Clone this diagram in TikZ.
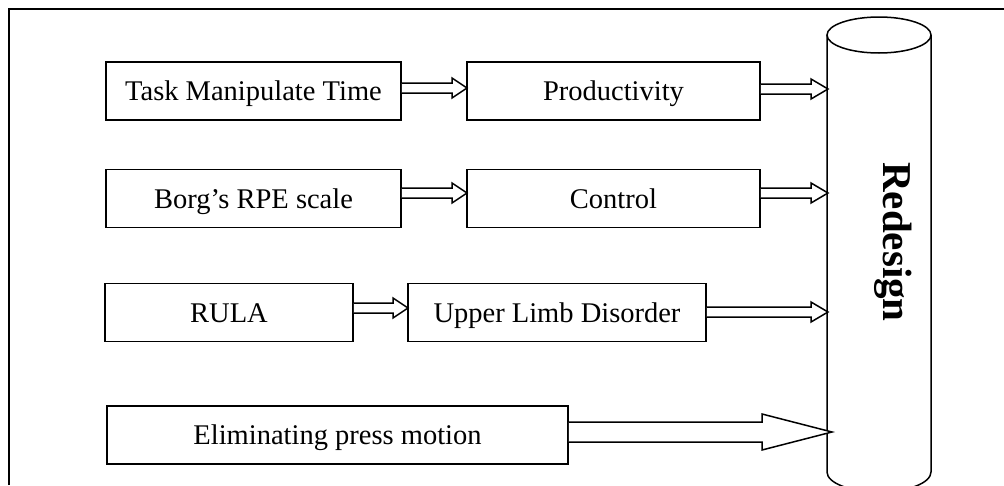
\documentclass[tikz,border=0pt]{standalone}
\usepackage{fontspec}
\setmainfont{Liberation Serif}
\usetikzlibrary{calc}
\tikzset{
  box/.style={draw, line width=1.8pt, rectangle, inner sep=0pt, minimum height=58pt,
    text height=19pt, text depth=0pt, font=\fontsize{28.5}{32}\selectfont},
  outline/.style={line width=1.5pt},
}
% hollow block arrow from #1 to tip #2: shaft half-width #3, head half-width #4, head length #5
\newcommand{\blockarrow}[5]{%
  \draw[outline, fill=white, line join=miter] let \p1=(#1), \p2=(#2) in
    (\x1,\y2+#3) -- (\x2-#5,\y2+#3) -- (\x2-#5,\y2+#4) -- (\x2,\y2)
    -- (\x2-#5,\y2-#4) -- (\x2-#5,\y2-#3) -- (\x1,\y2-#3);
}
\begin{document}
\begin{tikzpicture}[x=1pt,y=-1pt]
\useasboundingbox (0,0) rectangle (1004,485);
% outer frame
\draw[line width=1.8pt] (9,485) -- (9,9) -- (1004,9);

% cylinder
\coordinate (cyl) at (879,35);
\draw[outline] (cyl) ellipse [x radius=52, y radius=18];
\draw[outline] (827,35) -- (827,472) arc[start angle=180, end angle=0, x radius=52, y radius=20] -- (931,35);
\node[rotate=-90, font=\fontsize{41}{46}\selectfont\bfseries] (redesign) at (893,242) {Redesign};

% boxes
\node[box, minimum width=295pt] (tmt)  at (253.5,91)  {Task Manipulate Time};
\node[box, minimum width=293pt] (prod) at (613.5,91)  {Productivity};
\node[box, minimum width=295pt] (borg) at (253.5,198.5) {Borg’s RPE scale};
\node[box, minimum width=293pt] (ctrl) at (613.5,198.5) {Control};
\node[box, minimum width=248pt] (rula) at (229,312.5) {RULA};
\node[box, minimum width=298pt] (uld)  at (557,312.5) {Upper Limb Disorder};
\node[box, minimum width=461pt] (elim) at (337.5,435) {Eliminating press motion};

% arrow tips
\coordinate (t1) at (467,88);
\coordinate (t2) at (828,89);
\coordinate (t3) at (467,193);
\coordinate (t4) at (828,193);
\coordinate (t5) at (408,308);
\coordinate (t6) at (828,312);
\coordinate (t7) at (832,432);

\blockarrow{tmt.east}{t1}{5}{10}{15}
\blockarrow{prod.east}{t2}{5}{10}{17}
\blockarrow{borg.east}{t3}{5}{10}{15}
\blockarrow{ctrl.east}{t4}{5}{10}{17}
\blockarrow{rula.east}{t5}{5}{10}{15}
\blockarrow{uld.east}{t6}{5}{10}{17}
\blockarrow{elim.east}{t7}{10}{18}{70}
\end{tikzpicture}
\end{document}
